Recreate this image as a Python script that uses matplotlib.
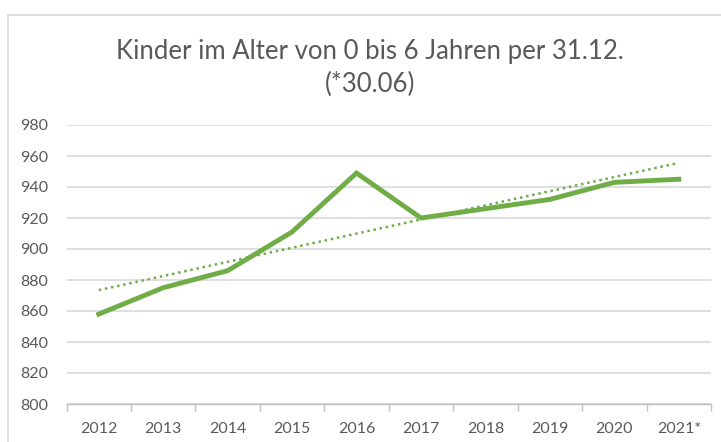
import matplotlib
matplotlib.use("Agg")
import matplotlib.pyplot as plt
from matplotlib.patches import Rectangle
import numpy as np

plt.rcParams['font.family'] = ['Lato', 'DejaVu Sans']

years = ["2012", "2013", "2014", "2015", "2016", "2017", "2018", "2019", "2020", "2021*"]
kinder = [858, 875, 886, 911, 949, 920, 926, 932, 943, 945]
title = "Kinder im Alter von 0 bis 6 Jahren per 31.12.\n(*30.06)"
yticks = list(range(800, 1000, 20))

green = "#70ad47"
grid = "#d9d9d9"
textc = "#595959"

W, H = 721, 442
fig = plt.figure(figsize=(W / 100, H / 100), dpi=100)
ax = fig.add_axes([66.5 / W, 1 - 404 / H, (711 - 66.5) / W, (404 - 125) / H])

x = np.arange(len(years))
ax.plot(x, kinder, color=green, lw=3.5, solid_joinstyle='miter', zorder=3)
coef = np.polyfit(x, kinder, 1)
ax.plot(x, np.polyval(coef, x), color=green, lw=1.8, linestyle=(0, (1, 1.5)), zorder=2)

ax.set_xlim(-0.5, len(years) - 0.5)
ax.set_ylim(800, 980)
ax.set_yticks(yticks)
ax.set_yticklabels([str(v) for v in yticks])
ax.yaxis.grid(True, color=grid, lw=1.2)
ax.set_axisbelow(True)
for s in ['top', 'right', 'left']:
    ax.spines[s].set_visible(False)
ax.spines['bottom'].set_color('#bfbfbf')
ax.spines['bottom'].set_linewidth(1.0)

ax.set_xticks(x)
ax.set_xticklabels(years)
ax.set_xticks(np.arange(-0.5, len(years)), minor=True)
ax.tick_params(axis='x', which='major', length=0, pad=13, labelsize=11.5, labelcolor=textc)
ax.tick_params(axis='x', which='minor', length=5, color='#bfbfbf', width=1)
ax.tick_params(axis='y', length=0, pad=13, labelsize=11.5, labelcolor=textc)

fig.text(370 / W, 1 - 68 / H, title, ha='center', va='center', fontsize=18.5,
         color=textc, linespacing=1.35)

fig.patches.append(Rectangle((8 / W, -0.1), 1.2, 1.1 - 15 / H, transform=fig.transFigure,
                             fill=False, edgecolor=grid, lw=1.2))

fig.savefig("out.png", dpi=100)
